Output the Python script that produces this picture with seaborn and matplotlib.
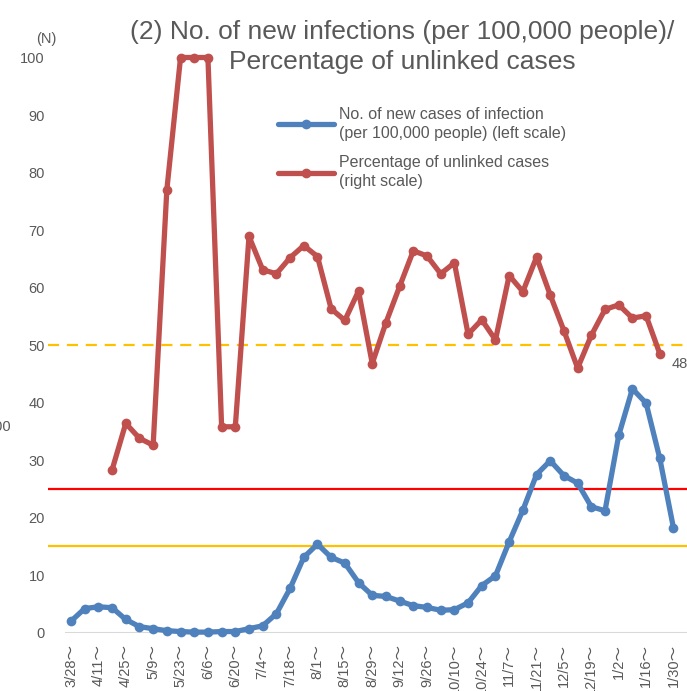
import seaborn as sns
import matplotlib.pyplot as plt
import numpy as np
import pandas as pd
from matplotlib.lines import Line2D

# week start labels (every 2 weeks)
week_labels = ["3/28", "4/11", "4/25", "5/9", "5/23", "6/6", "6/20", "7/4", "7/18",
               "8/1", "8/15", "8/29", "9/12", "9/26", "10/10", "10/24", "11/7",
               "11/21", "12/5", "12/19", "1/2", "1/16", "1/30"]

# weekly new cases per 100,000 people
new_cases = [2.0, 4.2, 4.5, 4.35, 2.3, 1.05, 0.7, 0.35, 0.2, 0.1, 0.1, 0.2, 0.2, 0.7,
             1.2, 3.3, 7.7, 13.1, 15.4, 13.1, 12.1, 8.7, 6.5, 6.3, 5.5, 4.7, 4.4, 3.9,
             4.0, 5.2, 8.2, 9.9, 15.8, 21.3, 27.5, 29.9, 27.3, 26.0, 21.9, 21.2, 34.3,
             42.4, 39.9, 30.3, 18.2]

# percentage of unlinked cases
unlinked = [np.nan, np.nan, np.nan, 28.3, 36.4, 33.8, 32.6, 77.0, 100, 100, 100, 35.8,
            35.8, 68.9, 63.1, 62.4, 65.2, 67.3, 65.4, 56.3, 54.3, 59.4, 46.8, 53.9,
            60.2, 66.4, 65.5, 62.4, 64.3, 51.9, 54.4, 50.9, 62.1, 59.3, 65.3, 58.7,
            52.5, 46.0, 51.7, 56.2, 57.0, 54.7, 55.1, 48.5, np.nan]

weeks = np.arange(len(new_cases))
df = pd.DataFrame({"week": weeks, "cases": new_cases, "unlinked": unlinked})

blue = "#4F81BD"
red = "#C0504D"
gray = "#595959"

sns.set_style("white")
plt.rcParams["font.family"] = ["Liberation Sans", "Noto Sans CJK JP", "DejaVu Sans"]

fig = plt.figure(figsize=(6.87, 6.91), dpi=100)
ax = fig.add_axes([48.3 / 687, (691 - 632.7) / 691, (721 - 48.3) / 687, 575.2 / 691])

# reference lines
ax.axhline(25, color="#FF0000", lw=1.6, zorder=1)
ax.axhline(15, color="#FFC000", lw=1.6, zorder=1)
ax.axhline(50, color="#FFC000", lw=1.6, ls=(0, (5, 3.5)), zorder=1)
ax.hlines(0, -0.46, 48, color="#D9D9D9", lw=1.5, zorder=1)

sns.lineplot(data=df, x="week", y="cases", ax=ax, color=blue, lw=3.8,
             marker="o", markersize=7, markeredgewidth=0, clip_on=False, zorder=3)
sns.lineplot(data=df.dropna(), x="week", y="unlinked", ax=ax, color=red, lw=3.8,
             marker="o", markersize=7, markeredgewidth=0, clip_on=False, zorder=3)

ax.set_xlim(-1.657, 47.47)
ax.set_ylim(0, 100)
ax.set_yticks(range(0, 101, 10))
ax.set_xticks(weeks[::2])
ax.set_xticklabels([w + "～" for w in week_labels], rotation=90, va="top", ha="center")
ax.tick_params(axis="both", length=0, labelsize=10.5, labelcolor=gray)
ax.tick_params(axis="x", pad=8)
ax.tick_params(axis="y", pad=2.5)
ax.set_xlabel("")
ax.set_ylabel("")
sns.despine(ax=ax, left=True, bottom=True)

# last data label
ax.annotate("48", xy=(43, 48.5), xytext=(12, -10), textcoords="offset pixels",
            ha="left", va="center", fontsize=10.5, color=gray)

# legend
handles = [Line2D([], [], color=blue, lw=3.8, marker="o", markersize=7, markeredgewidth=0),
           Line2D([], [], color=red, lw=3.8, marker="o", markersize=7, markeredgewidth=0)]
labels = ["No. of new cases of infection\n(per 100,000 people) (left scale)",
          "Percentage of unlinked cases\n(right scale)"]
leg = fig.legend(handles, labels, loc="upper left", bbox_to_anchor=(278 / 687, 1 - 107 / 691),
                 frameon=False, fontsize=11.5, handlelength=3.5, handletextpad=0.3,
                 labelspacing=0.93, borderpad=0, borderaxespad=0)
for t in leg.get_texts():
    t.set_color(gray)
    t.set_linespacing(1.3)

# title and axis unit
fig.text(402 / 687, 1 - 32 / 691, "(2) No. of new infections (per 100,000 people)/",
         ha="center", va="center", fontsize=19, color=gray)
fig.text(402 / 687, 1 - 62 / 691, "Percentage of unlinked cases",
         ha="center", va="center", fontsize=19, color=gray)
fig.text(46 / 687, 1 - 39 / 691, "(N)", ha="center", va="center", fontsize=10.5, color=gray)
fig.text(12 / 687, 1 - 427 / 691, "100", ha="right", va="center", fontsize=10.5, color=gray)

fig.savefig("out.png", dpi=100)
